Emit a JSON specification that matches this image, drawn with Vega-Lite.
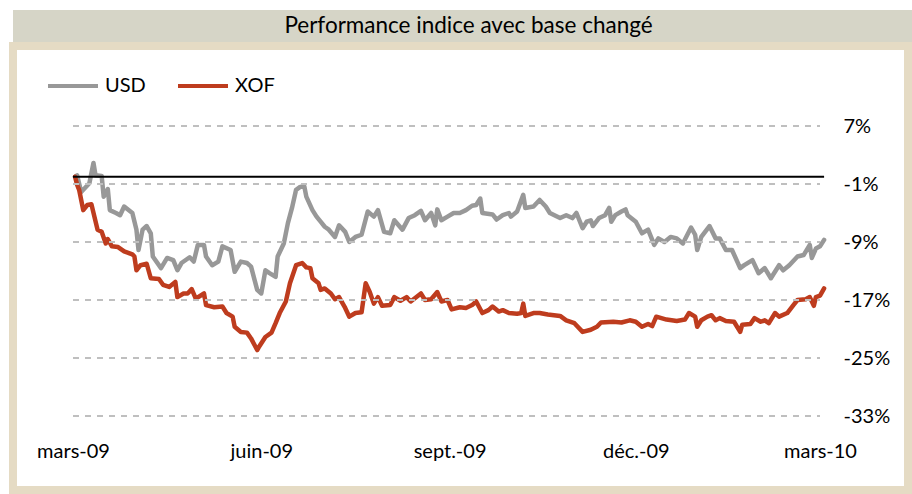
{
  "$schema": "https://vega.github.io/schema/vega-lite/v6.json",
  "background": "white",
  "padding": {"left": 9, "top": 10, "right": 0, "bottom": 0},
  "spacing": 0,
  "config": {"font": "Lato", "view": {"stroke": null}},
  "datasets": {
    "grid": [{"v": 7}, {"v": -1}, {"v": -9}, {"v": -17}, {"v": -25}, {"v": -33}],
    "series": [
      {"d":"2009-03-02","s":"USD","v":0.0},{"d":"2009-03-03","s":"USD","v":0.2},{"d":"2009-03-05","s":"USD","v":-2.1},{"d":"2009-03-09","s":"USD","v":-0.9},{"d":"2009-03-11","s":"USD","v":1.9},{"d":"2009-03-12","s":"USD","v":0.2},{"d":"2009-03-15","s":"USD","v":0.1},{"d":"2009-03-16","s":"USD","v":-2.75},{"d":"2009-03-18","s":"USD","v":-1.7},{"d":"2009-03-19","s":"USD","v":-4.6},{"d":"2009-03-22","s":"USD","v":-5.0},{"d":"2009-03-24","s":"USD","v":-5.3},{"d":"2009-03-26","s":"USD","v":-4.1},{"d":"2009-03-30","s":"USD","v":-5.0},
      {"d":"2009-04-01","s":"USD","v":-7.3},{"d":"2009-04-02","s":"USD","v":-10.1},{"d":"2009-04-04","s":"USD","v":-7.3},{"d":"2009-04-06","s":"USD","v":-6.8},{"d":"2009-04-08","s":"USD","v":-7.8},{"d":"2009-04-09","s":"USD","v":-11.0},{"d":"2009-04-13","s":"USD","v":-12.6},{"d":"2009-04-16","s":"USD","v":-11.2},{"d":"2009-04-19","s":"USD","v":-11.5},{"d":"2009-04-21","s":"USD","v":-12.9},{"d":"2009-04-23","s":"USD","v":-11.9},{"d":"2009-04-27","s":"USD","v":-11.1},{"d":"2009-04-29","s":"USD","v":-11.7},
      {"d":"2009-05-01","s":"USD","v":-9.4},{"d":"2009-05-04","s":"USD","v":-9.4},{"d":"2009-05-05","s":"USD","v":-11.0},{"d":"2009-05-08","s":"USD","v":-12.2},{"d":"2009-05-11","s":"USD","v":-11.7},{"d":"2009-05-13","s":"USD","v":-9.6},{"d":"2009-05-17","s":"USD","v":-10.1},{"d":"2009-05-19","s":"USD","v":-13.1},{"d":"2009-05-22","s":"USD","v":-11.7},{"d":"2009-05-25","s":"USD","v":-11.9},{"d":"2009-05-27","s":"USD","v":-12.4},{"d":"2009-05-30","s":"USD","v":-15.6},
      {"d":"2009-06-01","s":"USD","v":-16.1},{"d":"2009-06-03","s":"USD","v":-12.9},{"d":"2009-06-05","s":"USD","v":-13.3},{"d":"2009-06-08","s":"USD","v":-13.8},{"d":"2009-06-09","s":"USD","v":-11.0},{"d":"2009-06-12","s":"USD","v":-9.2},{"d":"2009-06-14","s":"USD","v":-6.4},{"d":"2009-06-16","s":"USD","v":-4.3},{"d":"2009-06-18","s":"USD","v":-1.8},{"d":"2009-06-20","s":"USD","v":-1.4},{"d":"2009-06-22","s":"USD","v":-1.3},{"d":"2009-06-23","s":"USD","v":-2.75},{"d":"2009-06-26","s":"USD","v":-4.6},{"d":"2009-06-28","s":"USD","v":-5.5},{"d":"2009-06-30","s":"USD","v":-6.2},
      {"d":"2009-07-02","s":"USD","v":-6.9},{"d":"2009-07-04","s":"USD","v":-7.3},{"d":"2009-07-07","s":"USD","v":-8.3},{"d":"2009-07-09","s":"USD","v":-6.7},{"d":"2009-07-12","s":"USD","v":-7.6},{"d":"2009-07-14","s":"USD","v":-9.0},{"d":"2009-07-17","s":"USD","v":-8.3},{"d":"2009-07-20","s":"USD","v":-8.0},{"d":"2009-07-23","s":"USD","v":-4.8},{"d":"2009-07-26","s":"USD","v":-5.5},{"d":"2009-07-28","s":"USD","v":-4.6},{"d":"2009-07-31","s":"USD","v":-7.6},
      {"d":"2009-08-03","s":"USD","v":-7.8},{"d":"2009-08-05","s":"USD","v":-6.0},{"d":"2009-08-09","s":"USD","v":-7.3},{"d":"2009-08-12","s":"USD","v":-5.7},{"d":"2009-08-15","s":"USD","v":-5.3},{"d":"2009-08-18","s":"USD","v":-4.7},{"d":"2009-08-20","s":"USD","v":-6.0},{"d":"2009-08-23","s":"USD","v":-5.0},{"d":"2009-08-25","s":"USD","v":-6.7},{"d":"2009-08-26","s":"USD","v":-4.5},{"d":"2009-08-28","s":"USD","v":-6.0},{"d":"2009-08-31","s":"USD","v":-5.5},
      {"d":"2009-09-03","s":"USD","v":-5.0},{"d":"2009-09-06","s":"USD","v":-5.0},{"d":"2009-09-09","s":"USD","v":-4.6},{"d":"2009-09-12","s":"USD","v":-4.0},{"d":"2009-09-14","s":"USD","v":-3.9},{"d":"2009-09-16","s":"USD","v":-3.0},{"d":"2009-09-17","s":"USD","v":-5.0},{"d":"2009-09-22","s":"USD","v":-5.2},{"d":"2009-09-24","s":"USD","v":-5.9},{"d":"2009-09-27","s":"USD","v":-5.3},{"d":"2009-09-30","s":"USD","v":-5.0},
      {"d":"2009-10-01","s":"USD","v":-5.5},{"d":"2009-10-04","s":"USD","v":-4.8},{"d":"2009-10-07","s":"USD","v":-2.5},{"d":"2009-10-08","s":"USD","v":-4.3},{"d":"2009-10-12","s":"USD","v":-4.1},{"d":"2009-10-15","s":"USD","v":-3.2},{"d":"2009-10-18","s":"USD","v":-4.1},{"d":"2009-10-20","s":"USD","v":-5.0},{"d":"2009-10-25","s":"USD","v":-5.7},{"d":"2009-10-28","s":"USD","v":-5.3},{"d":"2009-10-31","s":"USD","v":-5.7},
      {"d":"2009-11-02","s":"USD","v":-5.0},{"d":"2009-11-05","s":"USD","v":-7.1},{"d":"2009-11-07","s":"USD","v":-6.2},{"d":"2009-11-09","s":"USD","v":-6.0},{"d":"2009-11-10","s":"USD","v":-6.8},{"d":"2009-11-13","s":"USD","v":-5.7},{"d":"2009-11-16","s":"USD","v":-5.3},{"d":"2009-11-18","s":"USD","v":-4.3},{"d":"2009-11-19","s":"USD","v":-6.2},{"d":"2009-11-21","s":"USD","v":-5.3},{"d":"2009-11-24","s":"USD","v":-4.8},{"d":"2009-11-26","s":"USD","v":-4.5},{"d":"2009-11-27","s":"USD","v":-5.3},
      {"d":"2009-12-01","s":"USD","v":-6.2},{"d":"2009-12-04","s":"USD","v":-7.8},{"d":"2009-12-07","s":"USD","v":-7.3},{"d":"2009-12-10","s":"USD","v":-9.4},{"d":"2009-12-12","s":"USD","v":-8.5},{"d":"2009-12-15","s":"USD","v":-9.0},{"d":"2009-12-18","s":"USD","v":-8.3},{"d":"2009-12-21","s":"USD","v":-8.5},{"d":"2009-12-24","s":"USD","v":-9.2},{"d":"2009-12-28","s":"USD","v":-7.0},{"d":"2009-12-30","s":"USD","v":-8.0},{"d":"2009-12-31","s":"USD","v":-10.1},
      {"d":"2010-01-02","s":"USD","v":-8.3},{"d":"2010-01-06","s":"USD","v":-6.8},{"d":"2010-01-09","s":"USD","v":-8.5},{"d":"2010-01-11","s":"USD","v":-8.5},{"d":"2010-01-14","s":"USD","v":-10.1},{"d":"2010-01-17","s":"USD","v":-10.1},{"d":"2010-01-21","s":"USD","v":-12.6},{"d":"2010-01-23","s":"USD","v":-12.2},{"d":"2010-01-27","s":"USD","v":-11.5},{"d":"2010-01-30","s":"USD","v":-13.3},
      {"d":"2010-02-02","s":"USD","v":-12.6},{"d":"2010-02-05","s":"USD","v":-14.0},{"d":"2010-02-09","s":"USD","v":-12.2},{"d":"2010-02-11","s":"USD","v":-12.9},{"d":"2010-02-14","s":"USD","v":-12.2},{"d":"2010-02-18","s":"USD","v":-11.0},{"d":"2010-02-21","s":"USD","v":-10.8},{"d":"2010-02-24","s":"USD","v":-9.4},{"d":"2010-02-25","s":"USD","v":-11.2},{"d":"2010-02-27","s":"USD","v":-9.9},{"d":"2010-03-01","s":"USD","v":-9.6},{"d":"2010-03-03","s":"USD","v":-8.7},

      {"d":"2009-03-02","s":"XOF","v":0.0},{"d":"2009-03-03","s":"XOF","v":-1.1},{"d":"2009-03-04","s":"XOF","v":-1.8},{"d":"2009-03-06","s":"XOF","v":-4.6},{"d":"2009-03-08","s":"XOF","v":-3.9},{"d":"2009-03-10","s":"XOF","v":-3.8},{"d":"2009-03-13","s":"XOF","v":-7.3},{"d":"2009-03-15","s":"XOF","v":-7.6},{"d":"2009-03-17","s":"XOF","v":-9.2},{"d":"2009-03-18","s":"XOF","v":-8.6},{"d":"2009-03-20","s":"XOF","v":-9.6},{"d":"2009-03-23","s":"XOF","v":-9.7},{"d":"2009-03-26","s":"XOF","v":-10.3},{"d":"2009-03-30","s":"XOF","v":-10.7},{"d":"2009-03-31","s":"XOF","v":-11.0},
      {"d":"2009-04-01","s":"XOF","v":-12.9},{"d":"2009-04-03","s":"XOF","v":-12.2},{"d":"2009-04-06","s":"XOF","v":-12.0},{"d":"2009-04-08","s":"XOF","v":-14.0},{"d":"2009-04-12","s":"XOF","v":-14.1},{"d":"2009-04-14","s":"XOF","v":-14.9},{"d":"2009-04-17","s":"XOF","v":-15.2},{"d":"2009-04-20","s":"XOF","v":-14.5},{"d":"2009-04-21","s":"XOF","v":-16.6},{"d":"2009-04-24","s":"XOF","v":-16.1},{"d":"2009-04-26","s":"XOF","v":-16.1},{"d":"2009-04-28","s":"XOF","v":-15.5},{"d":"2009-04-30","s":"XOF","v":-16.8},
      {"d":"2009-05-04","s":"XOF","v":-16.1},{"d":"2009-05-05","s":"XOF","v":-17.7},{"d":"2009-05-09","s":"XOF","v":-18.0},{"d":"2009-05-13","s":"XOF","v":-17.9},{"d":"2009-05-15","s":"XOF","v":-18.8},{"d":"2009-05-18","s":"XOF","v":-19.3},{"d":"2009-05-19","s":"XOF","v":-20.7},{"d":"2009-05-22","s":"XOF","v":-21.4},{"d":"2009-05-25","s":"XOF","v":-21.5},{"d":"2009-05-27","s":"XOF","v":-22.3},{"d":"2009-05-30","s":"XOF","v":-23.9},{"d":"2009-05-31","s":"XOF","v":-23.4},
      {"d":"2009-06-03","s":"XOF","v":-22.1},{"d":"2009-06-06","s":"XOF","v":-21.5},{"d":"2009-06-08","s":"XOF","v":-20.2},{"d":"2009-06-10","s":"XOF","v":-18.8},{"d":"2009-06-13","s":"XOF","v":-17.2},{"d":"2009-06-15","s":"XOF","v":-14.7},{"d":"2009-06-18","s":"XOF","v":-12.2},{"d":"2009-06-21","s":"XOF","v":-11.9},{"d":"2009-06-23","s":"XOF","v":-12.5},{"d":"2009-06-25","s":"XOF","v":-12.6},{"d":"2009-06-26","s":"XOF","v":-14.0},{"d":"2009-06-29","s":"XOF","v":-14.7},{"d":"2009-06-30","s":"XOF","v":-15.6},
      {"d":"2009-07-02","s":"XOF","v":-15.4},{"d":"2009-07-05","s":"XOF","v":-16.1},{"d":"2009-07-07","s":"XOF","v":-16.9},{"d":"2009-07-09","s":"XOF","v":-16.6},{"d":"2009-07-12","s":"XOF","v":-18.1},{"d":"2009-07-14","s":"XOF","v":-19.3},{"d":"2009-07-17","s":"XOF","v":-18.8},{"d":"2009-07-20","s":"XOF","v":-18.7},{"d":"2009-07-22","s":"XOF","v":-14.7},{"d":"2009-07-24","s":"XOF","v":-15.9},{"d":"2009-07-26","s":"XOF","v":-17.5},{"d":"2009-07-28","s":"XOF","v":-16.6},{"d":"2009-07-30","s":"XOF","v":-17.8},
      {"d":"2009-08-03","s":"XOF","v":-17.7},{"d":"2009-08-05","s":"XOF","v":-16.6},{"d":"2009-08-08","s":"XOF","v":-17.1},{"d":"2009-08-11","s":"XOF","v":-16.6},{"d":"2009-08-13","s":"XOF","v":-17.2},{"d":"2009-08-18","s":"XOF","v":-16.1},{"d":"2009-08-20","s":"XOF","v":-17.0},{"d":"2009-08-23","s":"XOF","v":-16.9},{"d":"2009-08-26","s":"XOF","v":-15.9},{"d":"2009-08-28","s":"XOF","v":-17.2},{"d":"2009-08-31","s":"XOF","v":-17.0},
      {"d":"2009-09-02","s":"XOF","v":-18.3},{"d":"2009-09-06","s":"XOF","v":-18.0},{"d":"2009-09-09","s":"XOF","v":-18.1},{"d":"2009-09-12","s":"XOF","v":-17.7},{"d":"2009-09-14","s":"XOF","v":-17.2},{"d":"2009-09-17","s":"XOF","v":-18.8},{"d":"2009-09-20","s":"XOF","v":-18.4},{"d":"2009-09-22","s":"XOF","v":-17.9},{"d":"2009-09-25","s":"XOF","v":-18.6},{"d":"2009-09-27","s":"XOF","v":-18.4},{"d":"2009-09-30","s":"XOF","v":-18.8},
      {"d":"2009-10-04","s":"XOF","v":-18.9},{"d":"2009-10-06","s":"XOF","v":-18.8},{"d":"2009-10-07","s":"XOF","v":-17.5},{"d":"2009-10-08","s":"XOF","v":-19.2},{"d":"2009-10-12","s":"XOF","v":-18.8},{"d":"2009-10-15","s":"XOF","v":-18.8},{"d":"2009-10-19","s":"XOF","v":-19.0},{"d":"2009-10-25","s":"XOF","v":-19.2},{"d":"2009-10-28","s":"XOF","v":-19.8},
      {"d":"2009-11-01","s":"XOF","v":-20.2},{"d":"2009-11-05","s":"XOF","v":-21.4},{"d":"2009-11-09","s":"XOF","v":-21.1},{"d":"2009-11-12","s":"XOF","v":-20.7},{"d":"2009-11-14","s":"XOF","v":-20.1},{"d":"2009-11-20","s":"XOF","v":-20.0},{"d":"2009-11-24","s":"XOF","v":-20.1},{"d":"2009-11-28","s":"XOF","v":-19.8},
      {"d":"2009-12-01","s":"XOF","v":-20.0},{"d":"2009-12-04","s":"XOF","v":-20.7},{"d":"2009-12-07","s":"XOF","v":-20.3},{"d":"2009-12-09","s":"XOF","v":-20.6},{"d":"2009-12-11","s":"XOF","v":-19.3},{"d":"2009-12-16","s":"XOF","v":-19.7},{"d":"2009-12-21","s":"XOF","v":-19.9},{"d":"2009-12-25","s":"XOF","v":-19.7},{"d":"2009-12-27","s":"XOF","v":-18.8},{"d":"2009-12-30","s":"XOF","v":-19.3},{"d":"2009-12-31","s":"XOF","v":-20.7},
      {"d":"2010-01-02","s":"XOF","v":-19.8},{"d":"2010-01-05","s":"XOF","v":-19.3},{"d":"2010-01-07","s":"XOF","v":-19.1},{"d":"2010-01-09","s":"XOF","v":-19.8},{"d":"2010-01-11","s":"XOF","v":-19.5},{"d":"2010-01-14","s":"XOF","v":-19.9},{"d":"2010-01-18","s":"XOF","v":-20.0},{"d":"2010-01-21","s":"XOF","v":-21.4},{"d":"2010-01-22","s":"XOF","v":-20.4},{"d":"2010-01-26","s":"XOF","v":-20.3},{"d":"2010-01-28","s":"XOF","v":-19.5},{"d":"2010-01-31","s":"XOF","v":-20.0},
      {"d":"2010-02-02","s":"XOF","v":-19.8},{"d":"2010-02-04","s":"XOF","v":-20.2},{"d":"2010-02-07","s":"XOF","v":-18.8},{"d":"2010-02-09","s":"XOF","v":-19.3},{"d":"2010-02-13","s":"XOF","v":-18.8},{"d":"2010-02-16","s":"XOF","v":-17.7},{"d":"2010-02-18","s":"XOF","v":-17.0},{"d":"2010-02-22","s":"XOF","v":-16.9},{"d":"2010-02-24","s":"XOF","v":-16.6},{"d":"2010-02-26","s":"XOF","v":-17.8},{"d":"2010-02-27","s":"XOF","v":-16.6},{"d":"2010-03-01","s":"XOF","v":-16.4},{"d":"2010-03-03","s":"XOF","v":-15.4}
    ]
  },
  "vconcat": [
    {
      "width": 903,
      "height": 32,
      "view": {"fill": "#D6D5C7", "stroke": null},
      "data": {"values": [{"t": "Performance indice avec base changé"}]},
      "mark": {"type": "text", "fontSize": 22.5, "font": "Lato", "color": "black", "dx": 4},
      "encoding": {"text": {"field": "t"}}
    },
    {
      "width": 895,
      "height": 444,
      "view": {"fill": "white", "stroke": "#E5DBC4", "strokeWidth": 8},
      "layer": [
        {
          "data": {"name": "series"},
          "mark": {"type": "line", "strokeWidth": 4.5, "strokeJoin": "round", "strokeCap": "round"},
          "encoding": {
            "x": {
              "field": "d", "type": "temporal", "title": null,
              "scale": {"type": "utc", "domain": [{"year": 2009, "month": 3, "date": 1, "utc": true}, {"year": 2010, "month": 3, "date": 1, "utc": true}], "range": [60, 807]},
              "axis": {
                "title": null, "domain": false, "ticks": false, "grid": false,
                "values": [
                  {"year": 2009, "month": 3, "date": 1, "utc": true},
                  {"year": 2009, "month": 6, "date": 1, "utc": true},
                  {"year": 2009, "month": 9, "date": 1, "utc": true},
                  {"year": 2009, "month": 12, "date": 1, "utc": true},
                  {"year": 2010, "month": 3, "date": 1, "utc": true}
                ],
                "labelExpr": "['janv.','févr.','mars','avr.','mai','juin','juil.','août','sept.','oct.','nov.','déc.'][utcmonth(datum.value)] + '-' + utcFormat(datum.value, '%y')",
                "labelFontSize": 20, "labelFont": "Lato", "labelColor": "black",
                "labelPadding": 0, "offset": -49, "labelFlush": false, "labelOverlap": false
              }
            },
            "y": {
              "field": "v", "type": "quantitative", "title": null,
              "scale": {"domain": [-33, 7], "range": [370, 80], "nice": false, "zero": false},
              "axis": {
                "title": null, "orient": "right", "domain": false, "ticks": false, "grid": false,
                "values": [7, -1, -9, -17, -25, -33],
                "labelExpr": "datum.value + '%'",
                "labelFontSize": 20, "labelFont": "Lato", "labelColor": "black",
                "labelPadding": 0, "offset": -65, "labelAlign": "left"
              }
            },
            "color": {
              "field": "s", "type": "nominal",
              "scale": {"domain": ["USD", "XOF"], "range": ["#989898", "#BE3C1E"]},
              "legend": {
                "orient": "none", "legendX": 33, "legendY": 49, "direction": "horizontal", "title": null,
                "symbolType": "stroke", "symbolSize": 2500, "symbolStrokeWidth": 4,
                "labelFontSize": 20, "labelFont": "Lato", "labelColor": "black",
                "labelOffset": 5, "columnPadding": 24, "labelLimit": 0
              }
            }
          }
        },
        {
          "data": {"name": "grid"},
          "mark": {"type": "rule", "color": "#BFBFBF", "strokeWidth": 2, "strokeDash": [6, 6]},
          "encoding": {
            "y": {"field": "v", "type": "quantitative", "title": null},
            "x": {"datum": {"year": 2009, "month": 3, "date": 1, "utc": true}, "type": "temporal", "title": null},
            "x2": {"datum": {"year": 2010, "month": 3, "date": 1, "utc": true}}
          }
        },
        {
          "data": {"values": [{"v": 0}]},
          "mark": {"type": "rule", "color": "black", "strokeWidth": 2},
          "encoding": {
            "y": {"field": "v", "type": "quantitative", "title": null},
            "x": {"datum": {"year": 2009, "month": 3, "date": 1, "utc": true}, "type": "temporal", "title": null},
            "x2": {"datum": {"year": 2010, "month": 3, "date": 3, "utc": true}}
          }
        }
      ]
    }
  ]
}
